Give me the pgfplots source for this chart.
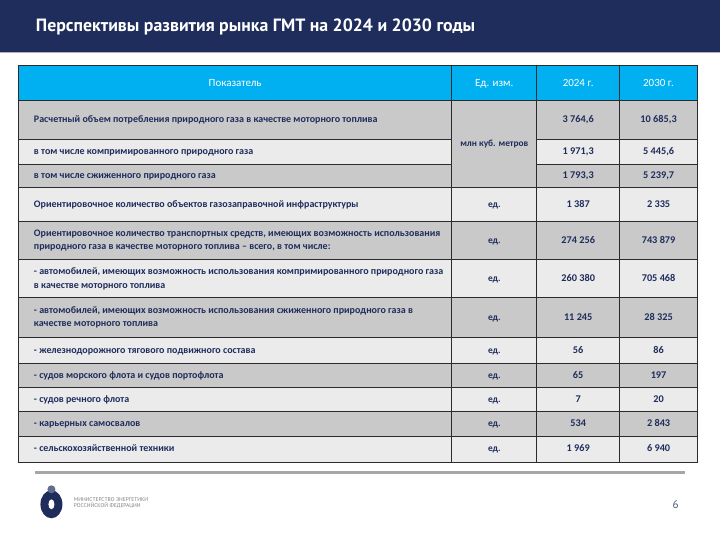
\documentclass[border=0pt]{standalone}
\usepackage{pgfplots}
\pgfplotsset{compat=1.18}
\usepackage{fontspec}
\setmainfont{Carlito}
\newfontfamily\ptsans{PT Sans}
\definecolor{navy}{HTML}{1F2D5C}
\definecolor{hdr}{HTML}{00B0F0}
\definecolor{dk}{HTML}{C9C9C9}
\definecolor{lt}{HTML}{EBEBEB}
\definecolor{txt}{HTML}{1F2D5C}
\definecolor{grd}{HTML}{2B2B2B}
\begin{document}
\begin{tikzpicture}
\begin{axis}[width=720pt,height=540pt,scale only axis,hide axis,
  xmin=0,xmax=720,ymin=0,ymax=540,y dir=reverse,clip=false,enlargelimits=false]
\fill[white] (0,0) rectangle (720,540);
% header band
\fill[navy] (0,0) rectangle (720,52);
\draw[gray!60,line width=1pt] (0,52.5) -- (720,52.5);
\node[anchor=west,text=white,font=\ptsans\bfseries\fontsize{17.8}{20}\selectfont] at (32,27) {Перспективы развития рынка ГМТ на 2024 и 2030 годы};
% rows
\fill[hdr] (18,66) rectangle (698,101);
\fill[dk] (18,101) rectangle (698,140);
\fill[lt] (18,140) rectangle (698,165);
\fill[dk] (18,165) rectangle (698,188);
\fill[lt] (18,188) rectangle (698,222);
\fill[dk] (18,222) rectangle (698,260);
\fill[lt] (18,260) rectangle (698,298);
\fill[dk] (18,298) rectangle (698,338);
\fill[lt] (18,338) rectangle (698,364);
\fill[dk] (18,364) rectangle (698,388);
\fill[lt] (18,388) rectangle (698,412);
\fill[dk] (18,412) rectangle (698,437);
\fill[lt] (18,437) rectangle (698,463);
\fill[dk] (452,101) rectangle (537,188);
% grid
\draw[grd,line width=1.1pt] (18,66) rectangle (698,463);
\draw[grd,line width=1.1pt] (452,66) -- (452,463);
\draw[grd,line width=1.1pt] (537,66) -- (537,463);
\draw[grd,line width=1.1pt] (620,66) -- (620,463);
\draw[grd,line width=1.1pt] (18,101) -- (698,101);
\draw[grd,line width=1.1pt] (18,140) -- (452,140);
\draw[grd,line width=1.1pt] (537,140) -- (698,140);
\draw[grd,line width=1.1pt] (18,165) -- (452,165);
\draw[grd,line width=1.1pt] (537,165) -- (698,165);
\draw[grd,line width=1.1pt] (18,188) -- (698,188);
\draw[grd,line width=1.1pt] (18,222) -- (698,222);
\draw[grd,line width=1.1pt] (18,260) -- (698,260);
\draw[grd,line width=1.1pt] (18,298) -- (698,298);
\draw[grd,line width=1.1pt] (18,338) -- (698,338);
\draw[grd,line width=1.1pt] (18,364) -- (698,364);
\draw[grd,line width=1.1pt] (18,388) -- (698,388);
\draw[grd,line width=1.1pt] (18,412) -- (698,412);
\draw[grd,line width=1.1pt] (18,437) -- (698,437);
% header text
\begin{scope}[every node/.style={text=white,font=\fontsize{11}{13}\selectfont,text height=1.6ex,text depth=0.45ex}]
\node at (235,83.5) {Показатель};
\node at (494.5,83.5) {Ед. изм.};
\node at (578.5,83.5) {2024 г.};
\node at (659,83.5) {2030 г.};
\end{scope}
% body text, multi-line
\begin{scope}[every node/.style={text=txt,font=\bfseries\fontsize{10}{13.5}\selectfont}]
\node[anchor=west,align=left] at (30,241) {Ориентировочное количество транспортных средств, имеющих возможность использования\\природного газа в качестве моторного топлива -- всего, в том числе:};
\node[anchor=west,align=left] at (30,279) {- автомобилей, имеющих возможность использования компримированного природного газа\\в качестве моторного топлива};
\node[anchor=west,align=left] at (30,318) {- автомобилей, имеющих возможность использования сжиженного природного газа в\\качестве моторного топлива};
\end{scope}
% body text, single-line
\begin{scope}[every node/.style={text=txt,font=\bfseries\fontsize{10}{12}\selectfont,text height=1.55ex,text depth=0.45ex}]
\node[anchor=west] at (30,120.5) {Расчетный объем потребления природного газа в качестве моторного топлива};
\node[anchor=west] at (30,152.5) {в том числе компримированного природного газа};
\node[anchor=west] at (30,176.5) {в том числе сжиженного природного газа};
\node[anchor=west] at (30,205) {Ориентировочное количество объектов газозаправочной инфраструктуры};
\node[anchor=west] at (30,351) {- железнодорожного тягового подвижного состава};
\node[anchor=west] at (30,376) {- судов морского флота и судов портофлота};
\node[anchor=west] at (30,400) {- судов речного флота};
\node[anchor=west] at (30,424.5) {- карьерных самосвалов};
\node[anchor=west] at (30,450) {- сельскохозяйственной техники};
\end{scope}
\begin{scope}[every node/.style={text=txt,font=\bfseries\fontsize{9.4}{12}\selectfont,text height=1.55ex,text depth=0.45ex}]
% units
\node at (494.5,144.5) {млн куб. метров};
\node at (494.5,205) {ед.};
\node at (494.5,241) {ед.};
\node at (494.5,279) {ед.};
\node at (494.5,318) {ед.};
\node at (494.5,351) {ед.};
\node at (494.5,376) {ед.};
\node at (494.5,400) {ед.};
\node at (494.5,424.5) {ед.};
\node at (494.5,450) {ед.};
\end{scope}
\begin{scope}[every node/.style={text=txt,font=\bfseries\fontsize{10.3}{12}\selectfont,text height=1.55ex,text depth=0.45ex}]
% 2024
\node at (578.5,120.5) {3 764,6};
\node at (578.5,152.5) {1 971,3};
\node at (578.5,176.5) {1 793,3};
\node at (578.5,205) {1 387};
\node at (578.5,241) {274 256};
\node at (578.5,279) {260 380};
\node at (578.5,318) {11 245};
\node at (578.5,351) {56};
\node at (578.5,376) {65};
\node at (578.5,400) {7};
\node at (578.5,424.5) {534};
\node at (578.5,450) {1 969};
% 2030
\node at (659,120.5) {10 685,3};
\node at (659,152.5) {5 445,6};
\node at (659,176.5) {5 239,7};
\node at (659,205) {2 335};
\node at (659,241) {743 879};
\node at (659,279) {705 468};
\node at (659,318) {28 325};
\node at (659,351) {86};
\node at (659,376) {197};
\node at (659,400) {20};
\node at (659,424.5) {2 843};
\node at (659,450) {6 940};
\end{scope}
% footer
\draw[gray!70,line width=2.5pt] (35,473) -- (685,473);
\node[text=navy!80,font=\ptsans\fontsize{11}{12}\selectfont] at (676,505) {6};
\fill[navy] (51,505) ellipse (11 and 14);
\fill[navy!70] (51,490) circle (4);
\fill[white] (51,505) ellipse (3 and 5);
\node[anchor=west,align=left,text=gray,font=\ptsans\fontsize{5.5}{6.5}\selectfont] at (70,503.5) {МИНИСТЕРСТВО ЭНЕРГЕТИКИ\\РОССИЙСКОЙ ФЕДЕРАЦИИ};
\end{axis}
\end{tikzpicture}
\end{document}
